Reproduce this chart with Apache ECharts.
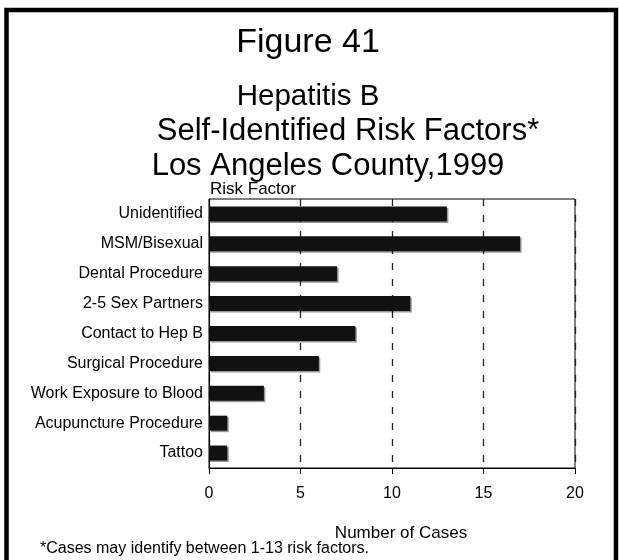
<!DOCTYPE html>
<html>
<head>
<meta charset="utf-8">
<script src="https://cdn.jsdelivr.net/npm/echarts@6/dist/echarts.min.js"></script>
<style>
  html, body { margin: 0; padding: 0; background: #fff; }
  #chart { width: 619px; height: 560px; }
</style>
</head>
<body>
<div id="chart"></div>
<script>
// Self-identified risk factors for hepatitis B, LA County 1999
const riskFactors = [
  'Unidentified',
  'MSM/Bisexual',
  'Dental Procedure',
  '2-5 Sex Partners',
  'Contact to Hep B',
  'Surgical Procedure',
  'Work Exposure to Blood',
  'Acupuncture Procedure',
  'Tattoo'
];
const caseCounts = [13, 17, 7, 11, 8, 6, 3, 1, 1];
const caseTicks = [0, 5, 10, 15, 20];

const FONT = '"Liberation Sans", Arial, Helvetica, sans-serif';

const chart = echarts.init(document.getElementById('chart'), null, { renderer: 'canvas' });

function label(text, x, y, size, align) {
  return {
    type: 'text', x: x, y: y,
    style: { text: text, font: size + 'px ' + FONT, fill: '#000', align: align || 'center', verticalAlign: 'middle' }
  };
}

chart.setOption({
  backgroundColor: '#fff',
  animation: false,
  textStyle: { fontFamily: FONT, color: '#000' },
  grid: {
    left: 209, right: 44, top: 199, bottom: 92,
    show: true, borderColor: '#000', borderWidth: 1, backgroundColor: 'transparent'
  },
  xAxis: {
    type: 'value',
    min: caseTicks[0],
    max: caseTicks[caseTicks.length - 1],
    interval: caseTicks[1] - caseTicks[0],
    axisLine: { show: true, lineStyle: { color: '#000', width: 1 } },
    axisTick: { show: true, length: 6, lineStyle: { color: '#000', width: 1 } },
    axisLabel: { fontSize: 16, color: '#000', margin: 18, fontFamily: FONT },
    splitLine: {
      show: true,
      lineStyle: { color: '#222', width: 1.3, type: [7, 9] }
    }
  },
  yAxis: {
    type: 'category',
    data: riskFactors,
    inverse: true,
    axisLine: { show: true, lineStyle: { color: '#000', width: 1 } },
    axisTick: { show: false },
    axisLabel: { fontSize: 16, color: '#000', margin: 6, fontFamily: FONT },
    splitLine: { show: false }
  },
  series: [{
    type: 'bar',
    data: caseCounts,
    barWidth: 15,
    itemStyle: {
      color: '#111',
      shadowColor: 'rgba(0,0,0,0.4)',
      shadowOffsetX: 1.5,
      shadowOffsetY: 1.5,
      shadowBlur: 0
    }
  }],
  graphic: [
    // outer frame
    { type: 'rect', shape: { x: 6.5, y: 10, width: 609.5, height: 600 },
      style: { fill: 'none', stroke: '#000', lineWidth: 4.5 } },
    label('Figure 41', 308, 43, 34),
    label('Hepatitis B', 308, 97, 29.5),
    label('Self-Identified Risk Factors*', 348, 131, 31),
    label('Los Angeles County,1999', 328, 166, 31),
    label('Risk Factor', 210, 189, 17, 'left'),
    label('Number of Cases', 401, 533, 17),
    label('*Cases may identify between 1-13 risk factors.', 40, 549, 16, 'left')
  ]
});
</script>
</body>
</html>
